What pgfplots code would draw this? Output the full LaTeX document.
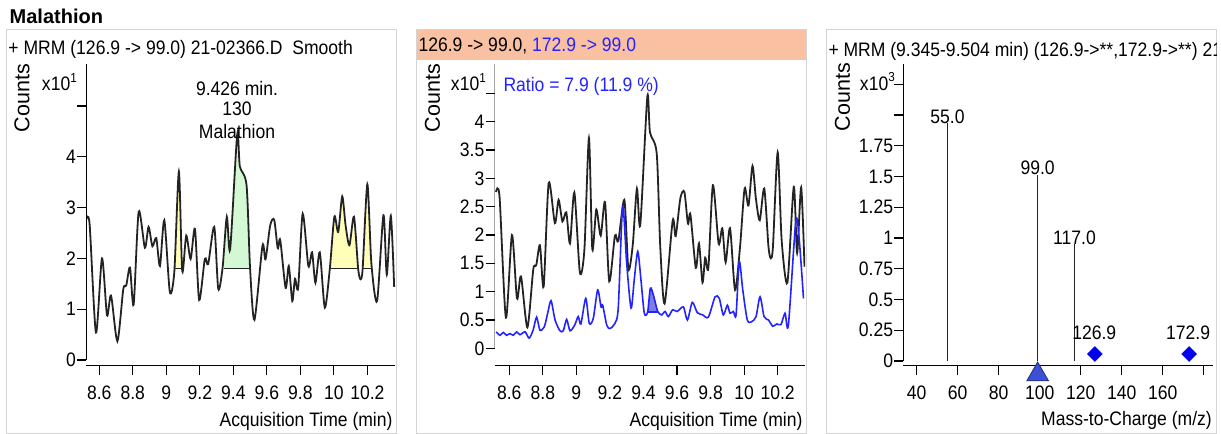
\documentclass[border=0pt]{standalone}
\usepackage{pgfplots}
\pgfplotsset{compat=1.18}
\usepackage{pgfplotstable}
\usepackage{fontspec}
\setmainfont{Liberation Sans}[FakeStretch=0.9]
\newfontfamily\plainfont{Liberation Sans}
\newcommand\cf{\fontsize{19.5bp}{22bp}\selectfont}
\definecolor{fy}{RGB}{255,255,185}
\definecolor{fg}{RGB}{212,248,212}
\definecolor{hdr}{RGB}{250,192,162}
\definecolor{trblue}{RGB}{35,35,255}
\definecolor{shblue}{RGB}{125,125,228}
\definecolor{frm}{RGB}{212,212,212}
\definecolor{dia}{RGB}{0,0,235}
\definecolor{tri}{RGB}{60,80,215}
\definecolor{trk}{RGB}{35,35,35}

\pgfplotstableread{
x y
8.521 2.76
8.542 2.68
8.580 0.54
8.616 2.00
8.646 0.88
8.670 1.27
8.708 0.37
8.743 1.39
8.761 1.47
8.783 1.82
8.805 1.09
8.835 2.92
8.872 2.21
8.894 2.62
8.917 2.24
8.940 2.40
8.962 1.85
8.988 2.75
9.021 1.34
9.048 1.75
9.075 3.71
9.095 1.75
9.119 2.45
9.145 1.99
9.171 2.58
9.196 1.18
9.230 1.99
9.250 1.89
9.286 2.62
9.310 1.40
9.336 1.82
9.361 2.82
9.381 2.18
9.423 4.44
9.439 3.81
9.479 3.44
9.500 1.80
9.526 0.79
9.574 2.25
9.592 1.98
9.620 2.65
9.644 2.76
9.665 2.20
9.680 2.36
9.712 1.42
9.731 1.85
9.752 1.16
9.768 1.60
9.787 1.42
9.814 2.88
9.848 1.85
9.870 2.12
9.890 1.52
9.916 2.12
9.946 1.03
9.976 1.80
10.003 2.82
10.026 2.52
10.050 3.22
10.070 2.65
10.093 2.26
10.120 2.82
10.145 1.80
10.159 1.59
10.172 1.80
10.200 3.46
10.224 1.90
10.258 1.16
10.296 2.85
10.316 1.68
10.340 2.84
10.360 1.44
}\blk

\pgfplotstableread{
x y
8.522 0.29
8.545 0.23
8.564 0.28
8.584 0.23
8.604 0.26
8.624 0.23
8.644 0.29
8.664 0.24
8.694 0.29
8.719 0.18
8.743 0.33
8.763 0.55
8.783 0.32
8.809 0.38
8.829 0.62
8.849 0.84
8.873 0.50
8.902 0.31
8.922 0.31
8.942 0.51
8.962 0.31
8.990 0.41
9.011 0.56
9.027 0.43
9.056 0.88
9.077 0.44
9.101 0.53
9.127 1.03
9.147 0.73
9.157 0.76
9.181 0.41
9.200 0.35
9.230 0.44
9.250 0.73
9.276 2.50
9.300 1.50
9.326 0.71
9.345 1.21
9.366 1.71
9.385 1.21
9.405 0.62
9.425 0.64
9.441 1.06
9.459 0.94
9.485 0.65
9.509 0.59
9.529 0.65
9.548 0.56
9.574 0.68
9.600 0.65
9.638 0.73
9.662 0.50
9.691 0.81
9.721 0.63
9.753 0.59
9.787 0.55
9.827 0.91
9.852 0.88
9.876 0.59
9.900 0.76
9.916 0.62
9.936 0.65
9.952 0.59
9.971 1.53
9.992 1.03
10.019 0.50
10.045 0.47
10.071 0.56
10.095 0.91
10.119 0.56
10.145 0.50
10.171 0.39
10.195 0.43
10.220 0.42
10.244 0.62
10.264 0.41
10.308 2.24
10.328 1.94
10.354 0.88
}\blu

\pgfplotsset{
  mh/.style={
    scale only axis, anchor=south west,
    axis lines*=left,
    y axis line style={draw=none},
    x axis line style={line width=1.3bp},
    tick align=outside, major tick length=9bp,
    tick style={black, line width=1.1bp},
    every tick label/.append style={font=\cf},
    xticklabel style={anchor=north, inner sep=0bp, yshift=-11bp},
    yticklabel style={anchor=east, inner sep=1bp},
  },
  trace/.style={trk, line width=1.8bp, smooth, tension=0.45},
}

\begin{document}
\begin{tikzpicture}
\useasboundingbox (0bp,0bp) rectangle (1221bp,434bp);
\begin{scope}[x=1bp,y=1bp]
\fill[hdr] (416.7,374) rectangle (806,404);
\draw[frm, line width=1bp] (6.7,1) rectangle (396.7,404);
\draw[frm, line width=1bp] (416.7,1) rectangle (806,404);
\draw[frm, line width=1bp] (826.7,1) rectangle (1216.7,404);
\node[anchor=base west, inner sep=0, font=\plainfont\bfseries\fontsize{20bp}{22bp}\selectfont] at (9.5,410.7) {Malathion};
\end{scope}

% ---------- panel 1
\begin{axis}[mh, at={(86bp,68.3bp)}, width=309bp, height=301.7bp,
  xmin=8.5206, xmax=10.365, ymin=-0.112, ymax=5.827,
  xtick={8.6,8.8,9,9.2,9.4,9.6,9.8,10,10.2},
  xticklabels={8.6,8.8,9,9.2,9.4,9.6,9.8,10,10.2},
  ytick={0,1,2,3,4,5}, yticklabels={0,1,2,3,4,{}}]
\addplot[fill=fy, draw=none] coordinates {(9.048,1.8) (9.075,3.71) (9.095,1.8)} -- cycle;
\addplot[fill=fg, draw=none] coordinates {(9.343,1.8) (9.361,2.82) (9.381,2.18) (9.423,4.44) (9.439,3.81) (9.479,3.44) (9.500,1.80)} -- cycle;
\addplot[fill=fy, draw=none] coordinates {(9.976,1.80) (10.003,2.82) (10.026,2.52) (10.050,3.22) (10.070,2.65) (10.093,2.26) (10.120,2.82) (10.145,1.80)} -- cycle;
\addplot[fill=fy, draw=none] coordinates {(10.172,1.80) (10.200,3.46) (10.224,1.85)} -- cycle;
\addplot[trace] table {\blk};
\addplot[trk, line width=1.4bp] coordinates {(9.048,1.8) (9.095,1.8)};
\addplot[trk, line width=1.4bp] coordinates {(9.343,1.8) (9.500,1.8)};
\addplot[trk, line width=1.4bp] coordinates {(9.976,1.8) (10.145,1.8)};
\addplot[trk, line width=1.4bp] coordinates {(10.172,1.8) (10.224,1.8)};
\draw[black, line width=1.3bp] (rel axis cs:0,1) -- (rel axis cs:0,0.019);
\end{axis}

% ---------- panel 2
\begin{axis}[mh, at={(494.5bp,68.3bp)}, width=310.5bp, height=301.7bp,
  xmin=8.512, xmax=10.363, ymin=-0.307, ymax=5.019,
  xtick={8.6,8.8,9,9.2,9.4,9.6,9.8,10,10.2},
  xticklabels={8.6,8.8,9,9.2,9.4,9.6,9.8,10,10.2},
  ytick={0,0.5,1,1.5,2,2.5,3,3.5,4,4.5},
  yticklabels={0,0.5,1,1.5,2,2.5,3,3.5,4,{}}]
\addplot[trace] table {\blk};
\addplot[fill=shblue, draw=none] coordinates {(9.425,0.64) (9.441,1.06) (9.459,0.94) (9.485,0.64)} -- cycle;
\addplot[trblue, line width=1.3bp] coordinates {(9.425,0.64) (9.485,0.64)};
\addplot[trblue, line width=1.6bp, smooth, tension=0.45] table {\blu};
\draw[black, line width=1.3bp] (rel axis cs:0,1) -- (rel axis cs:0,0.0578);
\end{axis}

% ---------- panel 3
\begin{axis}[mh, at={(903.3bp,68.3bp)}, width=310bp, height=301.7bp, clip=false,
  xmin=33.46, xmax=184.7, ymin=-0.038, ymax=2.415,
  xtick={40,60,80,100,120,140,160,180},
  xticklabels={40,60,80,100,120,140,160,{}},
  ytick={0,0.25,0.5,0.75,1,1.25,1.5,1.75,2,2.25},
  yticklabels={0,0.25,0.5,0.75,1,1.25,1.5,1.75,{},{}}]
\addplot[ycomb, trk, line width=1.4bp] coordinates {(55,1.934) (99,1.513) (117,0.95)};
\addplot[only marks, mark=square*, mark size=5.3bp, mark options={rotate=45, fill=dia, draw=dia}] coordinates {(126.9,0.057) (172.9,0.057)};
\addplot[only marks, mark=triangle*, mark size=12.5bp, mark options={fill=tri, draw=tri!55!black, line width=0.8bp}] coordinates {(99,-0.11)};
\node[anchor=base, inner sep=0, font=\cf] at (axis cs:55,1.934) {55.0};
\node[anchor=base, inner sep=0, font=\cf] at (axis cs:99,1.513) {99.0};
\node[anchor=base, inner sep=0, font=\cf] at (axis cs:117,0.95) {117.0};
\node[anchor=base, inner sep=0, font=\cf] at (axis cs:126.6,0.171) {126.9};
\node[anchor=base, inner sep=0, font=\cf] at (axis cs:172.4,0.171) {172.9};
\draw[black, line width=1.3bp] (rel axis cs:0,1) -- (rel axis cs:0,0.0155);
\end{axis}

\begin{scope}[x=1bp,y=1bp]
\node[anchor=base west, inner sep=0, font=\cf] at (8.3,380) {+ MRM (126.9 -> 99.0) 21-02366.D\ \ Smooth};
\node[rotate=90, inner sep=0, font=\plainfont\fontsize{21.5bp}{24bp}\selectfont] at (22,336) {Counts};
\node[anchor=base east, inner sep=0, font=\cf] at (77,343.3) {x10\raisebox{0.42em}{\fontsize{13bp}{13bp}\selectfont 1}};
\node[anchor=base, inner sep=0, font=\cf] at (237,338.5) {9.426 min.};
\node[anchor=base, inner sep=0, font=\cf] at (237,318.5) {130};
\node[anchor=base, inner sep=0, font=\cf] at (237,296) {Malathion};
\node[anchor=base east, inner sep=0, font=\cf] at (392.7,7.8) {Acquisition Time (min)};

\node[anchor=base west, inner sep=0, font=\cf] at (418.3,382.5) {126.9 -> 99.0, \textcolor{trblue}{172.9 -> 99.0}};
\node[rotate=90, inner sep=0, font=\plainfont\fontsize{21.5bp}{24bp}\selectfont] at (432.5,336) {Counts};
\node[anchor=base east, inner sep=0, font=\cf] at (486,343.3) {x10\raisebox{0.42em}{\fontsize{13bp}{13bp}\selectfont 1}};
\node[anchor=base west, inner sep=0, font=\cf, text=trblue] at (503.3,342.5) {Ratio = 7.9 (11.9 \%)};
\node[anchor=base east, inner sep=0, font=\cf] at (802.7,7.8) {Acquisition Time (min)};

\begin{scope}
\clip (826.7,0) rectangle (1216.2,434);
\node[anchor=base west, inner sep=0, font=\cf] at (828.3,378) {+ MRM (9.345-9.504 min) (126.9->**,172.9->**) 21-02366.D};
\end{scope}
\node[rotate=90, inner sep=0, font=\plainfont\fontsize{21.5bp}{24bp}\selectfont] at (842.5,337) {Counts};
\node[anchor=base east, inner sep=0, font=\cf] at (895,344) {x10\raisebox{0.42em}{\fontsize{13bp}{13bp}\selectfont 3}};
\node[anchor=base east, inner sep=0, font=\cf] at (1212,9) {Mass-to-Charge (m/z)};
\end{scope}
\end{tikzpicture}
\end{document}
